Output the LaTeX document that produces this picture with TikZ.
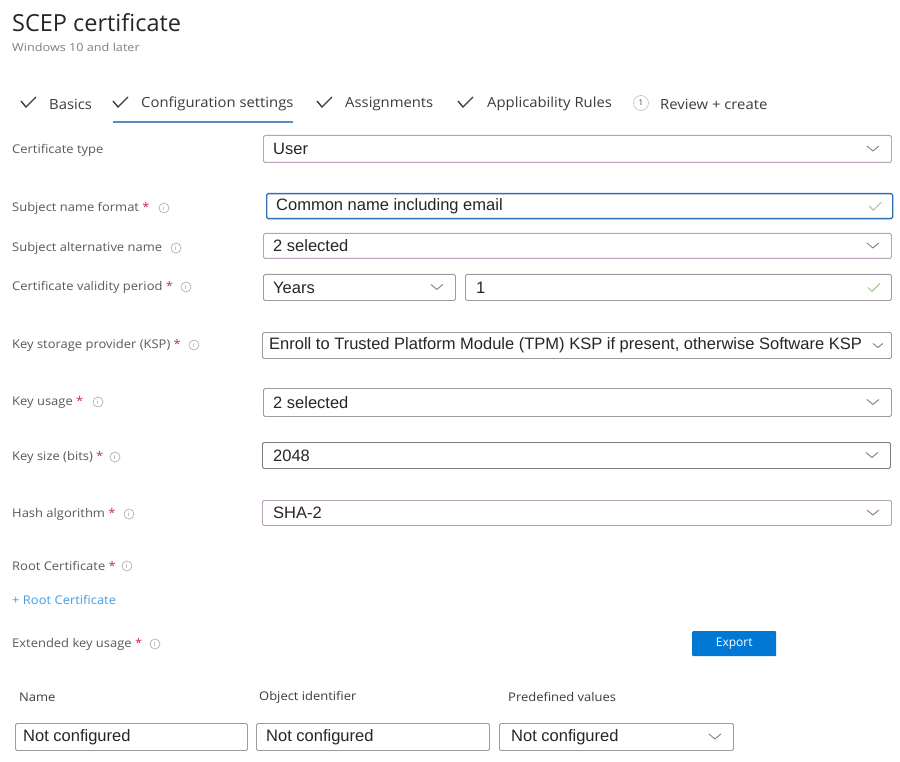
\documentclass[tikz,border=0pt]{standalone}
\usepackage{fontspec}
\setmainfont{Open Sans}
\newfontfamily\fieldfont{Liberation Sans}
\newfontfamily\lblfont{Open Sans}[FakeStretch=1.08]
\newfontfamily\tabfont{Open Sans}[FakeStretch=1.06]
\newfontfamily\subfont{Open Sans}[FakeStretch=1.15]
\definecolor{fieldgray}{HTML}{9E9A9E}
\definecolor{pinkgray}{HTML}{B8A2B8}
\definecolor{labelgray}{HTML}{5A5A5A}
\definecolor{valgray}{HTML}{262626}
\definecolor{tabgray}{HTML}{3C3C3C}
\definecolor{azure}{HTML}{0078D4}
\definecolor{linkblue}{HTML}{4A9BE0}
\definecolor{focusblue}{HTML}{2F6FB4}
\definecolor{okgreen}{HTML}{9CC98A}
\definecolor{reqred}{HTML}{C4314B}
\tikzset{
  fld/.style={draw=fieldgray, line width=0.9pt, rounded corners=1.5pt, anchor=north west, inner sep=0pt},
  pfld/.style={fld, draw=pinkgray},
  lbl/.style={anchor=west, inner sep=0pt, font=\lblfont\fontsize{12}{14}\selectfont, text=labelgray},
  hdr/.style={anchor=west, inner sep=0pt, font=\lblfont\fontsize{12}{14}\selectfont, text=tabgray},
  val/.style={anchor=west, inner sep=0pt, font=\fieldfont\fontsize{16.5}{18}\selectfont, text=valgray},
  tab/.style={anchor=west, inner sep=0pt, font=\tabfont\fontsize{14}{16}\selectfont, text=tabgray},
  tick/.style={draw=tabgray, line width=1.4pt},
  chevline/.style={draw=gray, line width=0.9pt},
  okline/.style={draw=okgreen, line width=1pt},
  infoc/.style={circle, draw=gray!70, line width=0.6pt, minimum size=10pt, inner sep=0pt, text=gray, font=\fontsize{6}{6}\selectfont},
}
\newcommand\mychev[1]{\draw[chevline] ([shift={(-25,-3)}]#1.east) -- ++(6,5) -- ++(6,-5);}
\newcommand\myok[1]{\draw[okline] ([shift={(-24,0)}]#1.east) -- ++(4,4) -- ++(8,-8);}
\newcommand\req{\textcolor{reqred}{*}}
\begin{document}
\begin{tikzpicture}[x=1pt,y=-1pt]
\useasboundingbox[fill=white] (0,0) rectangle (900,762);

% title
\node[anchor=west, inner sep=0pt, font=\fontsize{23.5}{26}\selectfont, text=black!85] (title) at (12,23) {SCEP certificate};
\node[anchor=west, inner sep=0pt, font=\subfont\fontsize{11}{12}\selectfont, text=gray] (sub) at (12,47) {Windows 10 and later};

% tabs
\coordinate (t1) at (21,101);
\draw[tick] (t1) -- ++(5,6) -- ++(10,-10);
\node[tab] (tb1) at (49,104) {Basics};
\coordinate (t2) at (113,101);
\draw[tick] (t2) -- ++(5,6) -- ++(10,-10);
\node[tab] (tb2) at (141,104) {Configuration settings};
\coordinate (ul1) at (113,122);
\coordinate (ul2) at (293,122);
\draw[draw=focusblue!80, line width=2pt] (ul1) -- (ul2);
\coordinate (t3) at (317,101);
\draw[tick] (t3) -- ++(5,6) -- ++(10,-10);
\node[tab] (tb3) at (345,104) {Assignments};
\coordinate (t4) at (458,101);
\draw[tick] (t4) -- ++(5,6) -- ++(10,-10);
\node[tab] (tb4) at (487,104) {Applicability Rules};
\node[circle, draw=gray!50, line width=0.6pt, minimum size=15pt, inner sep=0pt, text=tabgray, font=\fontsize{8}{8}\selectfont] (c5) at (641,103) {1};
\node[tab] (tb5) at (660,104) {Review + create};

% labels
\node[lbl] (l1) at (12,150) {Certificate type};
\node[lbl] (l2) at (12,208) {Subject name format \req};
\node[infoc] (i2) at (164,208) {i};
\node[lbl] (l3) at (12,248) {Subject alternative name};
\node[infoc] (i3) at (176,248) {i};
\node[lbl] (l4) at (12,287) {Certificate validity period \req};
\node[infoc] (i4) at (186,287) {i};
\node[lbl] (l5) at (12,345) {Key storage provider (KSP) \req};
\node[infoc] (i5) at (194,345) {i};
\node[lbl] (l6) at (12,402) {Key usage \req};
\node[infoc] (i6) at (98,402) {i};
\node[lbl] (l7) at (12,457) {Key size (bits) \req};
\node[infoc] (i7) at (115,457) {i};
\node[lbl] (l8) at (12,514) {Hash algorithm \req};
\node[infoc] (i8) at (129,514) {i};
\node[lbl] (l9) at (12,566) {Root Certificate \req};
\node[infoc] (i9) at (127,566) {i};
\node[lbl, text=linkblue] (l10) at (12,600) {+ Root Certificate};
\node[lbl] (l11) at (12,644) {Extended key usage \req};
\node[infoc] (i11) at (155,644) {i};

% fields
\node[pfld, minimum width=628pt, minimum height=27pt] (f1) at (263,135) {};
\node[val] (v1) at ([xshift=10pt]f1.west) {User};
\mychev{f1}

\node[fld, draw=focusblue, line width=1.3pt, minimum width=626pt, minimum height=25pt] (f2) at (266,193) {};
\node[val] (v2) at ([xshift=10pt]f2.west) {Common name including email};
\myok{f2}

\node[pfld, minimum width=628pt, minimum height=25pt] (f3) at (263,233) {};
\node[val] (v3) at ([xshift=10pt]f3.west) {2 selected};
\mychev{f3}

\node[fld, minimum width=192pt, minimum height=26pt] (f4) at (263,274) {};
\node[val] (v4) at ([xshift=10pt]f4.west) {Years};
\mychev{f4}
\node[fld, minimum width=426pt, minimum height=26pt] (f5) at (465,274) {};
\node[val] (v5) at ([xshift=11pt]f5.west) {1};
\myok{f5}

\node[fld, minimum width=629pt, minimum height=26pt] (f6) at (262,332) {};
\node[val] (v6) at ([xshift=7pt]f6.west) {Enroll to Trusted Platform Module (TPM) KSP if present, otherwise Software KSP};
\draw[chevline] ([shift={(-19,-2)}]f6.east) -- ++(5,4) -- ++(5,-4);

\node[fld, minimum width=628pt, minimum height=28pt] (f7) at (263,388) {};
\node[val] (v7) at ([xshift=10pt]f7.west) {2 selected};
\mychev{f7}

\node[fld, draw=fieldgray!80!black, minimum width=628pt, minimum height=26pt] (f8) at (262,442) {};
\node[val] (v8) at ([xshift=11pt]f8.west) {2048};
\mychev{f8}

\node[pfld, minimum width=629pt, minimum height=25pt] (f9) at (262,500) {};
\node[val] (v9) at ([xshift=11pt]f9.west) {SHA-2};
\mychev{f9}

% export button
\node[fill=azure, rounded corners=1pt, anchor=north west, minimum width=84pt, minimum height=25pt, inner sep=0pt, text=white, font=\fontsize{12}{13}\selectfont] (exp) at (692,631) {Export};

% table
\node[hdr] (h1) at (19,697) {Name};
\node[hdr] (h2) at (259,697) {Object identifier};
\node[hdr] (h3) at (508,697) {Predefined values};

\node[fld, minimum width=232pt, minimum height=27pt] (n1) at (15,723) {};
\node[val] (nv1) at ([xshift=8pt]n1.west) {Not configured};
\node[fld, minimum width=233pt, minimum height=27pt] (n2) at (256,723) {};
\node[val] (nv2) at ([xshift=10pt]n2.west) {Not configured};
\node[fld, minimum width=234pt, minimum height=27pt] (n3) at (499,723) {};
\node[val] (nv3) at ([xshift=12pt]n3.west) {Not configured};
\mychev{n3}
\end{tikzpicture}
\end{document}
